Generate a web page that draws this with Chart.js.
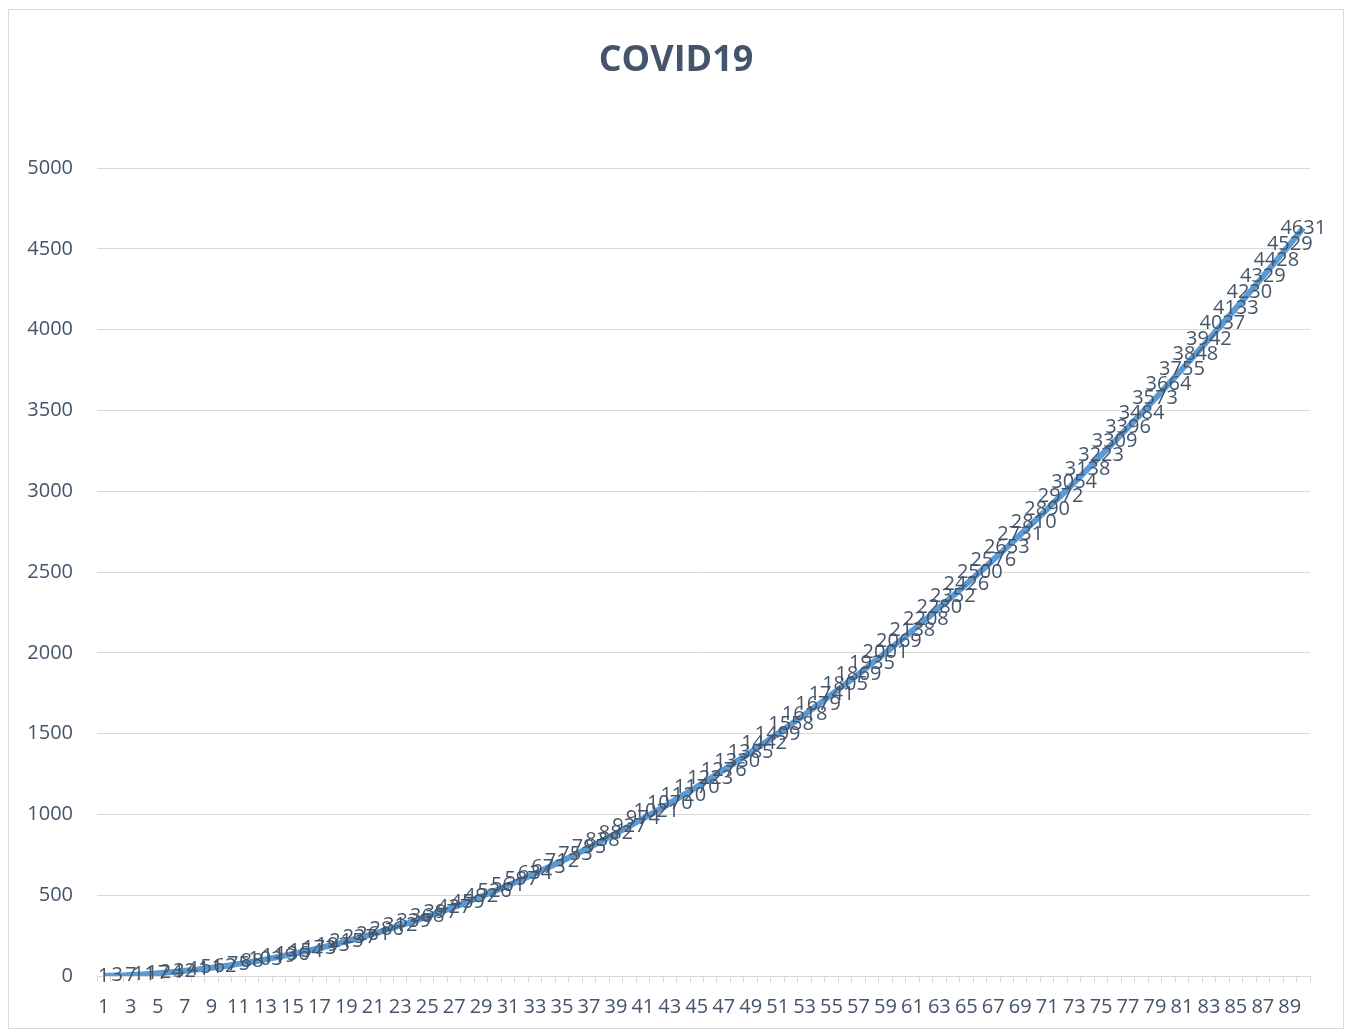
<!DOCTYPE html>
<html>
<head>
<meta charset="utf-8">
<script src="https://cdn.jsdelivr.net/npm/chart.js@4/dist/chart.umd.min.js"></script>
<style>
  html, body { margin: 0; padding: 0; background: #ffffff; }
  #frame { position: absolute; left: 8px; top: 9px; width: 1334px; height: 1018px; border: 1px solid #d9d9d9; background: #fff; }
  #c { display: block; }
</style>
</head>
<body>
<div id="frame"><canvas id="c" width="1334" height="1018"></canvas></div>
<script>
const titleText = "COVID19";
const categories = [];
for (let i = 1; i <= 90; i++) categories.push(String(i));
const cases = [
  1, 3, 7, 11, 17, 24, 32, 41, 51, 62,
  75, 88, 103, 119, 136, 154, 173, 193, 215, 237,
  261, 286, 312, 339, 368, 397, 427, 459, 492, 526,
  561, 597, 634, 673, 712, 753, 795, 838, 882, 927,
  974, 1021, 1070, 1120, 1170, 1223, 1276, 1330, 1385, 1442,
  1499, 1558, 1618, 1679, 1741, 1805, 1869, 1935, 2001, 2069,
  2138, 2208, 2280, 2352, 2426, 2500, 2576, 2653, 2731, 2810,
  2890, 2972, 3054, 3138, 3223, 3309, 3396, 3484, 3573, 3664,
  3755, 3848, 3942, 4037, 4133, 4230, 4329, 4428, 4529, 4631
];
const yTicks = [0, 500, 1000, 1500, 2000, 2500, 3000, 3500, 4000, 4500, 5000];

const textColor = '#44546a';
const fontFamily = '"Open Sans", "Noto Sans", "Liberation Sans", sans-serif';

const labelPlugin = {
  id: 'pointLabels',
  afterDatasetsDraw(chart) {
    const ctx = chart.ctx;
    const meta = chart.getDatasetMeta(0);
    ctx.save();
    ctx.font = '20px ' + fontFamily;
    ctx.fillStyle = textColor;
    ctx.textAlign = 'center';
    ctx.textBaseline = 'middle';
    meta.data.forEach((pt, i) => {
      ctx.fillText(String(cases[i]), pt.x, pt.y);
    });
    ctx.restore();
  }
};

new Chart(document.getElementById('c'), {
  type: 'line',
  data: {
    labels: categories,
    datasets: [{
      data: cases,
      borderColor: '#5b9bd5',
      borderWidth: 6,
      pointRadius: 0,
      tension: 0.4,
      fill: false,
      yAxisID: 'y'
    }]
  },
  options: {
    responsive: false,
    animation: false,
    layout: { padding: 0 },
    plugins: {
      legend: { display: false },
      tooltip: { enabled: false },
      title: {
        display: true,
        text: titleText,
        color: textColor,
        font: { family: fontFamily, size: 36, weight: 'bold' },
        padding: { top: 29, bottom: 86 }
      }
    },
    scales: {
      x: {
        type: 'category',
        offset: true,
        grid: {
          offset: true,
          drawOnChartArea: false,
          drawTicks: true,
          tickLength: 6,
          color: '#d9d9d9'
        },
        border: { color: '#d9d9d9', width: 1 },
        ticks: {
          autoSkip: false,
          maxRotation: 0,
          minRotation: 0,
          padding: 13,
          color: textColor,
          font: { family: fontFamily, size: 20 },
          callback: function(value, index) {
            return index % 2 === 0 ? categories[index] : '';
          }
        },
        afterFit(scale) { scale.height = 52; }
      },
      y: {
        position: 'left',
        min: 0,
        max: 5000,
        afterBuildTicks(scale) { scale.ticks = yTicks.map(v => ({ value: v })); },
        grid: { color: '#d9d9d9', drawTicks: false, lineWidth: 1 },
        border: { display: false },
        ticks: {
          padding: 24,
          color: textColor,
          font: { family: fontFamily, size: 20 },
          callback: function(value) { return String(value); }
        },
        afterFit(scale) { scale.width = 88; }
      },
      yRight: {
        position: 'right',
        display: true,
        min: 0,
        max: 5000,
        grid: { display: false, drawTicks: false },
        border: { display: false },
        ticks: { display: false },
        afterFit(scale) { scale.width = 33; }
      }
    }
  },
  plugins: [labelPlugin]
});
</script>
</body>
</html>
